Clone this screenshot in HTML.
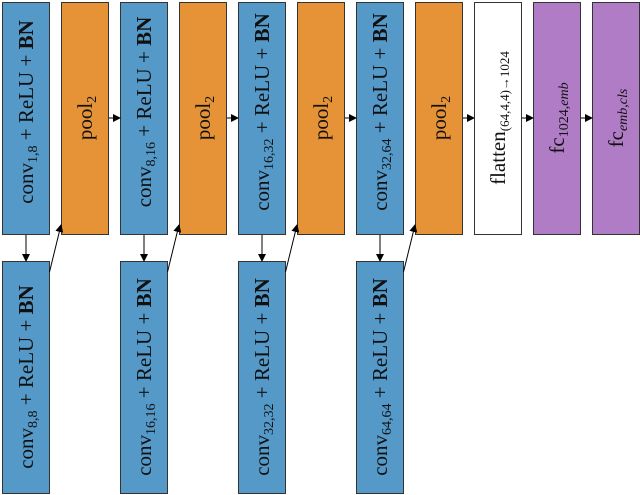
<!DOCTYPE html>
<html><head><style>body{margin:0;background:#fff}svg{display:block}</style></head><body>
<svg width="640" height="495" viewBox="0 0 640 495" xmlns="http://www.w3.org/2000/svg" font-family="Liberation Serif, serif" font-size="21">
<defs><marker id="a" markerWidth="8" markerHeight="8" refX="7" refY="4" orient="auto" markerUnits="userSpaceOnUse"><path d="M0,0 L8,4 L0,8 z" fill="#000"/></marker></defs>
<g stroke="#333" stroke-width="1">
<rect x="2.5" y="2.5" width="47" height="232" fill="#5499c8"/>
<rect x="61.5" y="2.5" width="47" height="232" fill="#e69236"/>
<rect x="120.5" y="2.5" width="47" height="232" fill="#5499c8"/>
<rect x="179.5" y="2.5" width="47" height="232" fill="#e69236"/>
<rect x="238.5" y="2.5" width="47" height="232" fill="#5499c8"/>
<rect x="297.5" y="2.5" width="47" height="232" fill="#e69236"/>
<rect x="356.5" y="2.5" width="47" height="232" fill="#5499c8"/>
<rect x="415.5" y="2.5" width="47" height="232" fill="#e69236"/>
<rect x="474.5" y="2.5" width="47" height="232" fill="#fff"/>
<rect x="533.5" y="2.5" width="47" height="232" fill="#b07cc6"/>
<rect x="592.5" y="2.5" width="47" height="232" fill="#b07cc6"/>
<rect x="2.5" y="261.5" width="47" height="232" fill="#5499c8"/>
<rect x="120.5" y="261.5" width="47" height="232" fill="#5499c8"/>
<rect x="238.5" y="261.5" width="47" height="232" fill="#5499c8"/>
<rect x="356.5" y="261.5" width="47" height="232" fill="#5499c8"/>
</g>
<g stroke="#000" stroke-width="1" marker-end="url(#a)">
<line x1="26" y1="235" x2="26" y2="261"/><line x1="144" y1="235" x2="144" y2="261"/><line x1="262" y1="235" x2="262" y2="261"/><line x1="380" y1="235" x2="380" y2="261"/>
<line x1="49.5" y1="272" x2="61" y2="225"/><line x1="167.5" y1="272" x2="179" y2="225"/><line x1="285.5" y1="272" x2="297" y2="225"/><line x1="403.5" y1="272" x2="415" y2="225"/>
<line x1="109" y1="118" x2="120" y2="118"/><line x1="227" y1="118" x2="238" y2="118"/><line x1="345" y1="118" x2="356" y2="118"/><line x1="463" y1="118" x2="474" y2="118"/><line x1="522" y1="118" x2="533" y2="118"/><line x1="581" y1="118" x2="592" y2="118"/>
</g>
<g fill="#111" text-anchor="middle">
<text transform="translate(33,112) rotate(-90)">conv<tspan font-size="14" dy="4">1,8</tspan><tspan dy="-4"> + ReLU + </tspan><tspan font-weight="bold">BN</tspan></text>
<text transform="translate(92,118) rotate(-90)">pool<tspan font-size="14" dy="4">2</tspan></text>
<text transform="translate(151,112) rotate(-90)">conv<tspan font-size="14" dy="4">8,16</tspan><tspan dy="-4"> + ReLU + </tspan><tspan font-weight="bold">BN</tspan></text>
<text transform="translate(210,118) rotate(-90)">pool<tspan font-size="14" dy="4">2</tspan></text>
<text transform="translate(269,112) rotate(-90)">conv<tspan font-size="14" dy="4">16,32</tspan><tspan dy="-4"> + ReLU + </tspan><tspan font-weight="bold">BN</tspan></text>
<text transform="translate(328,118) rotate(-90)">pool<tspan font-size="14" dy="4">2</tspan></text>
<text transform="translate(387,112) rotate(-90)">conv<tspan font-size="14" dy="4">32,64</tspan><tspan dy="-4"> + ReLU + </tspan><tspan font-weight="bold">BN</tspan></text>
<text transform="translate(446,118) rotate(-90)">pool<tspan font-size="14" dy="4">2</tspan></text>
<text transform="translate(505,118) rotate(-90)">flatten<tspan font-size="13" dy="4">(64,4,4)→1024</tspan></text>
<text transform="translate(564,118) rotate(-90)">fc<tspan font-size="14" dy="4">1024,<tspan font-style="italic">emb</tspan></tspan></text>
<text transform="translate(623,118) rotate(-90)">fc<tspan font-size="14" dy="4" font-style="italic">emb,cls</tspan></text>
<text transform="translate(33,377) rotate(-90)">conv<tspan font-size="14" dy="4">8,8</tspan><tspan dy="-4"> + ReLU + </tspan><tspan font-weight="bold">BN</tspan></text>
<text transform="translate(151,377) rotate(-90)">conv<tspan font-size="14" dy="4">16,16</tspan><tspan dy="-4"> + ReLU + </tspan><tspan font-weight="bold">BN</tspan></text>
<text transform="translate(269,377) rotate(-90)">conv<tspan font-size="14" dy="4">32,32</tspan><tspan dy="-4"> + ReLU + </tspan><tspan font-weight="bold">BN</tspan></text>
<text transform="translate(387,377) rotate(-90)">conv<tspan font-size="14" dy="4">64,64</tspan><tspan dy="-4"> + ReLU + </tspan><tspan font-weight="bold">BN</tspan></text>
</g>
</svg>
</body></html>
